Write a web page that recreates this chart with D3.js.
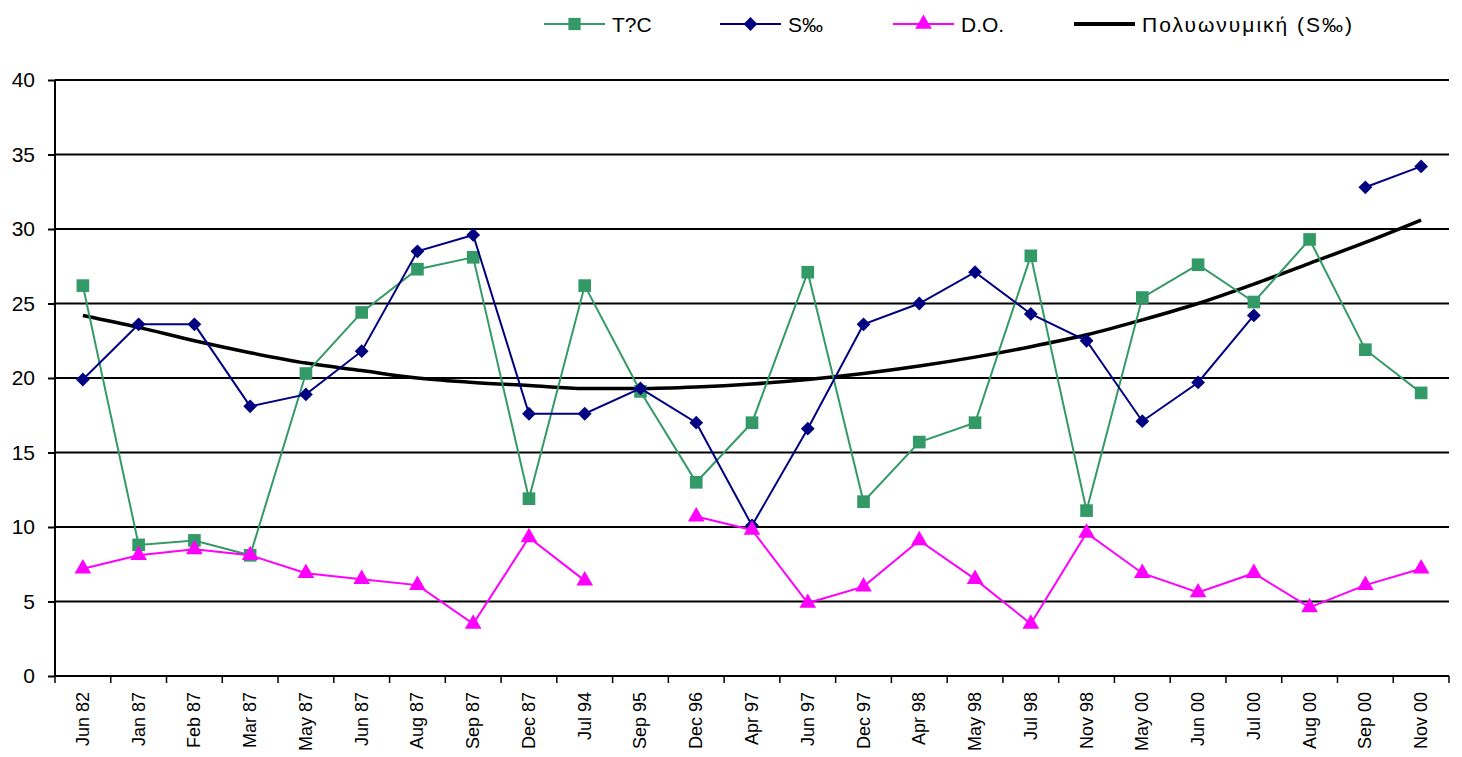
<!DOCTYPE html>
<html lang="en">
<head>
    <meta charset="UTF-8">
    <script src="https://d3js.org/d3.v7.min.js"></script>
    <style>
        body { margin: 0; background: #fff; }
        text { font-family: "Liberation Sans", Arial, sans-serif; }
    </style>
</head>
<body>
    <svg width="1462" height="757"></svg>
    <script>
        var months = ["Jun 82","Jan 87","Feb 87","Mar 87","May 87","Jun 87","Aug 87","Sep 87","Dec 87","Jul 94",
                      "Sep 95","Dec 96","Apr 97","Jun 97","Dec 97","Apr 98","May 98","Jul 98","Nov 98","May 00",
                      "Jun 00","Jul 00","Aug 00","Sep 00","Nov 00"];
        var temp = [26.2, 8.8, 9.1, 8.1, 20.3, 24.4, 27.3, 28.1, 11.9, 26.2,
                    19.1, 13.0, 17.0, 27.1, 11.7, 15.7, 17.0, 28.2, 11.1, 25.4,
                    27.6, 25.1, 29.3, 21.9, 19.0];
        var salinity = [19.9, 23.6, 23.6, 18.1, 18.9, 21.8, 28.5, 29.6, 17.6, 17.6,
                        19.3, 17.0, 10.1, 16.6, 23.6, 25.0, 27.1, 24.3, 22.5, 17.1,
                        19.7, 24.2, null, 32.8, 34.2];
        var oxygen = [7.2, 8.1, 8.5, 8.1, 6.9, 6.5, 6.1, 3.5, 9.3, 6.4,
                      null, 10.7, 9.8, 4.9, 6.0, 9.1, 6.5, 3.5, 9.6, 6.9,
                      5.6, 6.9, 4.6, 6.1, 7.2];
        // polynomial trendline of S‰ at each date
        var trend = [24.2, 23.4, 22.5, 21.7, 21.0, 20.5, 20.0, 19.7, 19.5, 19.3,
                     19.3, 19.4, 19.6, 19.9, 20.3, 20.8, 21.4, 22.1, 22.9, 23.9,
                     25.0, 26.3, 27.7, 29.1, 30.6];
        var yTicks = [0, 5, 10, 15, 20, 25, 30, 35, 40];

        var svg = d3.select("svg");
        var mLeft = 55, mTop = 80, width = 1394, height = 596;

        var x = d3.scaleBand().domain(months).range([0, width]);
        var y = d3.scaleLinear().domain([0, 40]).range([height, 0]);
        var cx = function(i) { return x(months[i]) + x.bandwidth() / 2; };

        var g = svg.append("g").attr("transform", "translate(" + mLeft + "," + mTop + ")");

        // grid lines
        g.selectAll(".grid")
            .data(yTicks.filter(function(d) { return d > 0; }))
            .enter().append("line")
            .attr("x1", 0).attr("x2", width)
            .attr("y1", function(d) { return y(d); })
            .attr("y2", function(d) { return y(d); })
            .attr("stroke", "#000").attr("stroke-width", 2);

        // y axis
        var yAxis = g.append("g")
            .call(d3.axisLeft(y).tickValues(yTicks).tickSize(7).tickPadding(13));
        yAxis.select(".domain").attr("stroke-width", 2).attr("d", "M0," + height + "V0");
        yAxis.selectAll("line").attr("stroke-width", 2);
        yAxis.selectAll("text").attr("font-size", 21).attr("fill", "#000")
            .attr("font-family", "Liberation Sans, Arial, sans-serif");

        // x axis
        var xAxis = g.append("g").attr("transform", "translate(0," + height + ")");
        xAxis.append("line").attr("x1", 0).attr("x2", width).attr("stroke", "#000").attr("stroke-width", 2);
        xAxis.selectAll(".tk")
            .data(months.concat(["end"]))
            .enter().append("line")
            .attr("x1", function(d, i) { return i * x.bandwidth(); })
            .attr("x2", function(d, i) { return i * x.bandwidth(); })
            .attr("y1", 0).attr("y2", 7)
            .attr("stroke", "#000").attr("stroke-width", 1.5);
        xAxis.selectAll(".lbl")
            .data(months)
            .enter().append("text")
            .attr("transform", function(d, i) { return "translate(" + (cx(i) + 6) + ",16) rotate(-90)"; })
            .attr("text-anchor", "end")
            .attr("font-size", 18)
            .attr("fill", "#000")
            .text(function(d) { return d; });

        var line = d3.line()
            .defined(function(d) { return d != null; })
            .x(function(d, i) { return cx(i); })
            .y(function(d) { return y(d); });

        // trendline
        g.append("path")
            .datum(trend)
            .attr("d", line.curve(d3.curveMonotoneX))
            .attr("fill", "none").attr("stroke", "#000").attr("stroke-width", 3.5);
        line.curve(d3.curveLinear);

        var series = [
            { name: "T?C", values: temp, color: "#339966", shape: d3.symbolSquare, size: 160, rot: 0 },
            { name: "S‰", values: salinity, color: "#000080", shape: d3.symbolSquare, size: 95, rot: 45 },
            { name: "D.O.", values: oxygen, color: "#FF00FF", shape: d3.symbolTriangle, size: 120, rot: 0 }
        ];

        series.forEach(function(s) {
            g.append("path")
                .datum(s.values)
                .attr("d", line)
                .attr("fill", "none").attr("stroke", s.color).attr("stroke-width", 2);
            g.selectAll(null)
                .data(s.values.map(function(v, i) { return { v: v, i: i }; }).filter(function(d) { return d.v != null; }))
                .enter().append("path")
                .attr("transform", function(d) { return "translate(" + cx(d.i) + "," + y(d.v) + ") rotate(" + s.rot + ")"; })
                .attr("d", d3.symbol().type(s.shape).size(s.size))
                .attr("fill", s.color);
        });

        // legend
        var legendItems = [
            { name: "T?C", color: "#339966", shape: d3.symbolSquare, size: 150, rot: 0, x: 544, w: 2, ls: 0 },
            { name: "S‰", color: "#000080", shape: d3.symbolSquare, size: 95, rot: 45, x: 720, w: 2, ls: 0 },
            { name: "D.O.", color: "#FF00FF", shape: d3.symbolTriangle, size: 120, rot: 0, x: 893, w: 2, ls: 0 },
            { name: "Πολυωνυμική (S‰)", color: "#000", shape: null, x: 1074, w: 4, ls: 2 }
        ];
        var lg = svg.append("g").attr("transform", "translate(0,24)");
        legendItems.forEach(function(d) {
            lg.append("line").attr("x1", d.x).attr("x2", d.x + 61)
                .attr("stroke", d.color).attr("stroke-width", d.w);
            if (d.shape) {
                lg.append("path")
                    .attr("transform", "translate(" + (d.x + 30.5) + ",0) rotate(" + d.rot + ")")
                    .attr("d", d3.symbol().type(d.shape).size(d.size))
                    .attr("fill", d.color);
            }
            lg.append("text")
                .attr("x", d.x + 68).attr("y", 7.5)
                .attr("font-size", 21).attr("fill", "#000")
                .attr("letter-spacing", d.ls)
                .text(d.name);
        });
    </script>
</body>
</html>
